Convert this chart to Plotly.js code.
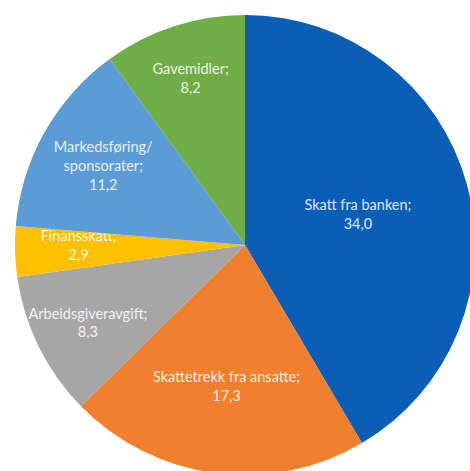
<!DOCTYPE html>
<html>
<head>
<meta charset="utf-8">
<script src="https://cdn.plot.ly/plotly-3.0.1.min.js"></script>
<style>
html,body{margin:0;padding:0;overflow:hidden;background:#fff;}
#chart{width:490px;height:490px;}
</style>
</head>
<body>
<div id="chart"></div>
<script>
const categories = [
  "Skatt fra banken",
  "Skattetrekk fra ansatte",
  "Arbeidsgiveravgift",
  "Finansskatt",
  "Markedsføring/<br>sponsorater",
  "Gavemidler"
];
const values = [34.0, 17.3, 8.3, 2.9, 11.2, 8.2];
const colors = ["#0A5EB6", "#F07F2E", "#A6A6A6", "#FFC000", "#5B9BD8", "#70AD47"];

const W = 490, H = 490;
const cx = 245, cy = 245, r = 230;

const pad = "\u00A0".repeat(12);
const templates = categories.map((c, i) =>
  c === "Finansskatt"
    ? pad + "%{label};<br>" + pad + "%{value:.1f}"
    : "%{label};<br>%{value:.1f}");

Plotly.newPlot("chart", [{
  type: "pie",
  labels: categories,
  values: values,
  sort: false,
  direction: "clockwise",
  rotation: 0,
  marker: {colors: colors, line: {width: 0}},
  texttemplate: templates,
  textposition: "inside",
  insidetextorientation: "horizontal",
  textfont: {family: "Lato, 'Open Sans', sans-serif", size: 14.5, color: "rgba(255,255,255,0.88)"},
  hoverinfo: "none",
  showlegend: false,
  domain: {x: [(cx - r) / W, (cx + r) / W], y: [(H - cy - r) / H, (H - cy + r) / H]}
}], {
  width: W,
  height: H,
  margin: {l: 0, r: 0, t: 0, b: 0},
  paper_bgcolor: "#ffffff",
  separators: ", ",
  uniformtext: {mode: "show", minsize: 14.5}
}, {displayModeBar: false, staticPlot: true});
</script>
</body>
</html>
